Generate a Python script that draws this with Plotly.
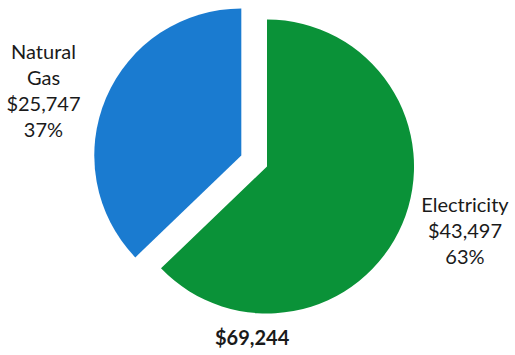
import plotly.graph_objects as go

labels = ["Electricity", "Natural Gas"]
values = [43497, 25747]
colors = ["#0a9238", "#1a7bd0"]
pulls = [0.095, 0.095]

total = sum(values)
text_labels = [l.replace(" ", "<br>") for l in labels]

fig = go.Figure()
fig.add_trace(go.Pie(
    labels=labels,
    values=values,
    text=text_labels,
    sort=False,
    direction="clockwise",
    rotation=0,
    pull=pulls,
    automargin=False,
    marker=dict(colors=colors, line=dict(width=0)),
    textposition="outside",
    texttemplate="%{text}<br>$%{value:,}<br>%{percent:.0%}",
    textfont=dict(family="Lato", size=20, color="#1a1a1a"),
    showlegend=False,
    hoverinfo="skip",
    domain=dict(x=[0.176, 0.811], y=[0.093, 1.0]),
))

fig.add_annotation(
    text="<b>$" + f"{total:,}" + "</b>",
    x=0.49, y=0.05, xref="paper", yref="paper",
    xanchor="center", yanchor="middle", showarrow=False,
    font=dict(family="Lato", size=20, color="#1a1a1a"),
)

fig.update_layout(
    width=515, height=355,
    margin=dict(l=0, r=0, t=0, b=0),
    paper_bgcolor="white", plot_bgcolor="white",
)

fig.write_html("out.html")
